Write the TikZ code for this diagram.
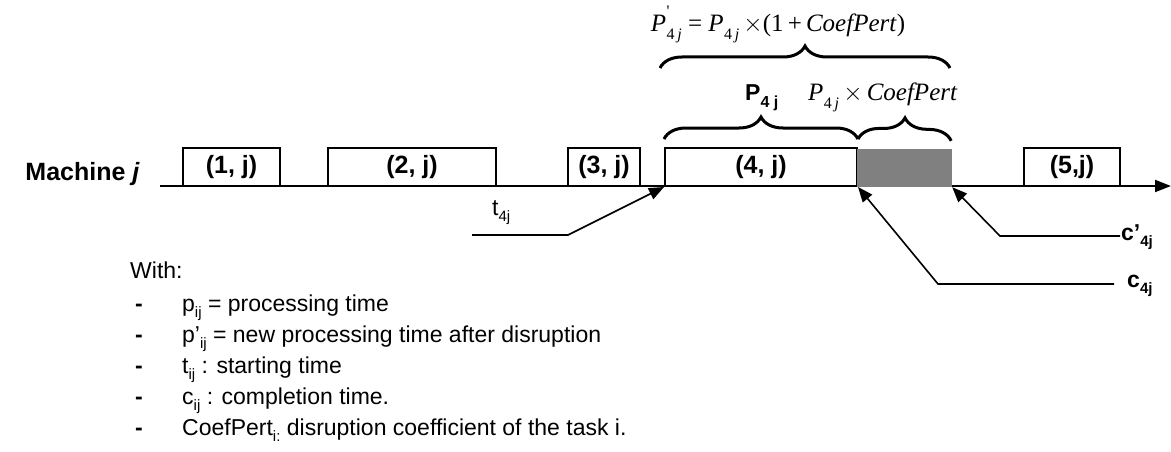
\documentclass[tikz,border=0pt]{standalone}
\usepackage{fontspec}
\setmainfont{Liberation Sans}
\newfontfamily\tms{Liberation Serif}
\usetikzlibrary{arrows.meta,decorations.pathreplacing}

% subscripts for the sans text
\newcommand\sbs[1]{\raisebox{-0.28em}{\fontsize{15}{15}\selectfont #1}}
% serif subscript "4 j" and the processing time symbols
\newcommand\tsub{\raisebox{-0.32em}{\fontsize{16}{16}\selectfont 4\,\textit{j}}}
\newcommand\Pfj{\textit{P}\kern0.5pt\tsub}
\newcommand\Pfjprime{\textit{P}\kern0.5pt\rlap{\raisebox{0.62em}{\fontsize{16}{16}\selectfont '}}\tsub}

\begin{document}
\begin{tikzpicture}[x=1pt,y=-1pt,
  job/.style={draw, line width=2pt, inner sep=0pt, minimum height=38pt,
              font=\fontsize{25}{25}\selectfont\bfseries},
  delay/.style={fill=black!50, draw=none, inner sep=0pt, minimum height=38pt},
  axis/.style={line width=2pt, -{Triangle[length=16pt,width=12pt]}},
  pointer/.style={line width=1.6pt, -{Triangle[length=15pt,width=12pt]}},
  bracket/.style={line width=3pt, decorate, decoration={brace, amplitude=22pt}},
  plain/.style={inner sep=0pt, font=\fontsize{23}{23}\selectfont},
  bold/.style={inner sep=0pt, font=\fontsize{23}{23}\selectfont\bfseries},
  serif/.style={inner sep=0pt, font=\fontsize{25}{25}\selectfont\tms}]
\useasboundingbox (0,0) rectangle (1171,452);

% time axis of the machine
\coordinate (ax0) at (160,186);
\coordinate (ax1) at (1171,186);
\draw[axis] (ax0) -- (ax1);
\node[bold, font=\fontsize{25}{25}\selectfont\bfseries, anchor=base east] (mach)
  at (140,180) {Machine \textit{j}};

% scheduled tasks
\node[job, minimum width=97pt]  (j1) at (231.5,167) {(1, j)};
\node[job, minimum width=168pt] (j2) at (412,167)   {(2, j)};
\node[job, minimum width=72pt]  (j3) at (604,167)   {(3, j)};
\node[job, minimum width=192pt] (j4) at (761,167)   {(4, j)};
\node[delay, minimum width=95pt] (gr) at (904.5,168) {};
\node[job, minimum width=96pt]  (j5) at (1072,167)  {(5,j)};

% braces over task 4 and its extension
\coordinate (bt0) at (660,68);
\coordinate (bt1) at (950,68);
\draw[bracket] (bt0) -- (bt1);
\draw[bracket] ([yshift=8pt]j4.north west) -- ([yshift=8pt]j4.north east);
\draw[bracket] ([yshift=8pt]j4.north east) -- ([yshift=8pt,xshift=-1pt]gr.north east);

\node[serif, anchor=base] (ftop) at (778,32)
  {\Pfjprime\ = \Pfj\,$\times$(1\,+\,\textit{CoefPert})};
\node[bold, anchor=base west] (p4j) at (745,101)
  {P\raisebox{-0.28em}{\fontsize{16}{16}\selectfont\bfseries 4 j}};
\node[serif, anchor=base west] (fext) at (808,100)
  {\Pfj\,$\times$\,\textit{CoefPert}};

% start and completion pointers
\node[plain, anchor=base west] (t4) at (492,215) {t\sbs{4j}};
\coordinate (ts) at (472,235);
\coordinate (tb) at (568,235);
\draw[pointer] (ts) -- (tb) -- (j4.south west);

\node[bold, anchor=base west] (cp) at (1121,240) {c’\sbs{\bfseries 4j}};
\coordinate (cpb) at (1000,236);
\draw[pointer] (1120,236) -- (cpb) -- (gr.south east);

\node[bold, anchor=base west] (cc) at (1127,287) {c\sbs{\bfseries 4j}};
\coordinate (ccb) at (938,284);
\coordinate (cce) at (1114,284);
\draw[pointer] (cce) -- (ccb) -- (j4.south east);

% legend
\node[plain, anchor=base west] (with) at (130,278) {With:};
\foreach \i/\txt in {1/{p\sbs{ij} = processing time},
                     2/{p’\sbs{ij} = new processing time after disruption},
                     3/{t\sbs{ij} : starting time},
                     4/{c\sbs{ij} : completion time.},
                     5/{CoefPert\sbs{i:} disruption coefficient of the task i.}}{
  \node[plain, anchor=base west] (dash\i) at (135,280+31*\i) {\textbf{-}};
  \node[plain, anchor=base west] (item\i) at (182,280+31*\i) {\txt};
}
\end{tikzpicture}
\end{document}
